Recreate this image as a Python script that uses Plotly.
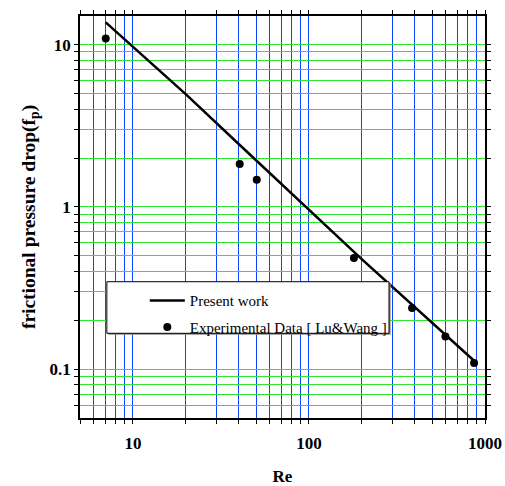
import plotly.graph_objects as go

# ---- data ----
re_exp = [7.0, 40.4, 50.5, 180, 385, 596, 867]
f_exp = [10.9, 1.84, 1.47, 0.484, 0.238, 0.159, 0.109]

re_model = [7.0, 20, 40, 100, 200, 880]
f_model = [13.7, 4.93, 2.43, 0.953, 0.475, 0.111]

x_decades = [10, 100, 1000]
x_decade_labels = ["10", "100", "1000"]
x_minor = [5, 6, 7, 8, 9, 20, 30, 40, 50, 60, 70, 80, 90,
           200, 300, 400, 500, 600, 700, 800, 900]
y_decades = [0.1, 1, 10]
y_decade_labels = ["0.1", "1", "10"]
y_minor = [0.06, 0.07, 0.08, 0.09, 0.2, 0.3, 0.4, 0.5, 0.6, 0.7, 0.8, 0.9,
           2, 3, 4, 5, 6, 7, 8, 9]

# every grid position gets a tick; only decades are labelled
x_ticks = sorted(x_decades + x_minor)
x_text = [x_decade_labels[x_decades.index(v)] if v in x_decades else "" for v in x_ticks]
y_ticks = sorted(y_decades + y_minor)
y_text = [y_decade_labels[y_decades.index(v)] if v in y_decades else "" for v in y_ticks]

SERIF = "Liberation Serif, Times New Roman, serif"
BLUE = "#0a46ff"
GREEN = "#2de62d"
XRANGE = [0.69897, 3.0]
YRANGE = [-1.30103, 1.176]

fig = go.Figure()
fig.add_trace(go.Scatter(
    x=re_model, y=f_model, mode="lines", name="Present work",
    line=dict(color="black", width=2.5), legendgroup="a"))
fig.add_trace(go.Scatter(
    x=re_exp, y=f_exp, mode="markers", name="Experimental Data [ Lu&Wang ]",
    marker=dict(color="black", size=8, symbol="circle"), legendgroup="b"))

tickfont = dict(family=SERIF, size=17, color="black", weight="bold")

fig.update_layout(
    xaxis=dict(
        type="log", range=XRANGE, automargin=False,
        tickmode="array", tickvals=x_ticks, ticktext=x_text,
        showline=True, linecolor="black", linewidth=1.5, mirror="allticks",
        ticks="outside", ticklen=4, tickwidth=1.2, tickcolor="black",
        showgrid=True, gridcolor=BLUE, gridwidth=1.1, zeroline=False,
        tickfont=tickfont, ticklabelstandoff=5, ticklabeloverflow="allow",
        title=dict(text="Re", font=dict(family=SERIF, size=17, color="black", weight="bold"),
                   standoff=27),
    ),
    yaxis=dict(
        type="log", range=YRANGE, automargin=False,
        tickmode="array", tickvals=y_ticks, ticktext=y_text,
        showline=True, linecolor="black", linewidth=1.5, mirror="allticks",
        ticks="outside", ticklen=4, tickwidth=1.2, tickcolor="black",
        showgrid=True, gridcolor=GREEN, gridwidth=1.1, zeroline=False,
        tickfont=tickfont, ticklabelstandoff=0, ticklabeloverflow="allow",
        title=dict(text="frictional pressure drop(f<sub>p</sub>)",
                   font=dict(family=SERIF, size=19.5, color="black", weight="bold"),
                   standoff=9),
    ),
    # overlay axes that only draw the longer decade ticks
    xaxis2=dict(
        type="log", range=XRANGE, overlaying="x", anchor="y", side="bottom",
        automargin=False,
        tickmode="array", tickvals=x_decades, showticklabels=False,
        ticks="outside", ticklen=8, tickwidth=1.2, tickcolor="black",
        mirror="ticks", showline=False, showgrid=False, zeroline=False,
    ),
    yaxis2=dict(
        type="log", range=YRANGE, overlaying="y", anchor="x", side="left",
        automargin=False,
        tickmode="array", tickvals=y_decades, showticklabels=False,
        ticks="outside", ticklen=7, tickwidth=1.2, tickcolor="black",
        mirror="ticks", showline=False, showgrid=False, zeroline=False,
    ),
)

# legend frame (white box with thin shadow)
fig.add_shape(type="rect", xref="paper", yref="paper",
              x0=0.0700, x1=0.7670, y0=0.2070, y1=0.3350,
              line=dict(width=0), fillcolor="#8a8a8a", layer="above")
fig.add_shape(type="rect", xref="paper", yref="paper",
              x0=0.0663, x1=0.7630, y0=0.2107, y1=0.3390,
              line=dict(color="black", width=1), fillcolor="white", layer="above")

fig.update_layout(
    width=505, height=486,
    margin=dict(l=80, r=20, t=16, b=68, autoexpand=False),
    paper_bgcolor="white", plot_bgcolor="white",
    showlegend=True,
    legend=dict(x=0.16, y=0.333, xanchor="left", yanchor="top",
                bgcolor="rgba(0,0,0,0)", borderwidth=0,
                font=dict(family=SERIF, size=15, color="black"),
                itemwidth=35, tracegroupgap=4),
)

# remove the default page margin so the 505x486 figure fills the window exactly
fig.write_html(
    "out.html",
    config={"displayModeBar": False},
    post_script="document.body.style.margin='0';document.body.style.overflow='hidden';",
)
